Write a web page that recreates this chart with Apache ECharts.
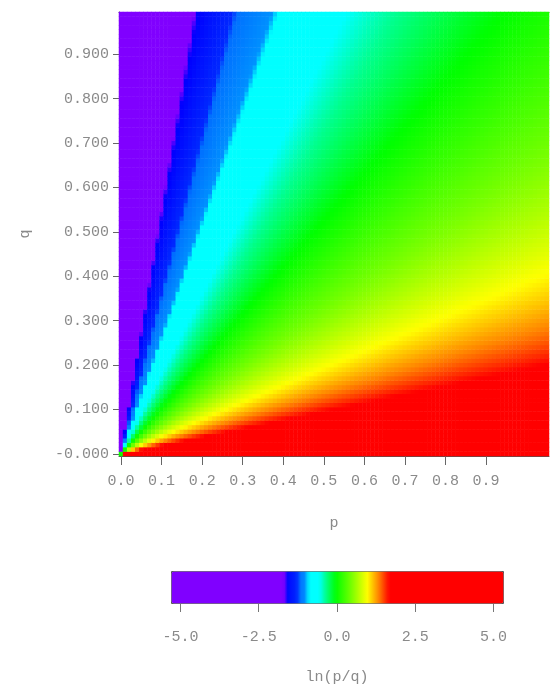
<!DOCTYPE html>
<html>
<head>
<meta charset="utf-8">
<script src="https://cdn.jsdelivr.net/npm/echarts@6/dist/echarts.min.js"></script>
<style>
html, body { margin: 0; padding: 0; background: #fff; }
#chart { width: 550px; height: 686px; }
</style>
</head>
<body>
<div id="chart"></div>
<script>
// grid of p and q sample points (cell centres, step 0.01)
const pSamples = [];
for (let i = 0; i <= 105; i++) pSamples.push(+(i * 0.01).toFixed(2));
const qSamples = [];
for (let j = 0; j <= 99; j++) qSamples.push(+(j * 0.01).toFixed(2));

// axis ticks
const xTickValues = [0, 0.1, 0.2, 0.3, 0.4, 0.5, 0.6, 0.7, 0.8, 0.9];
const xTickLabels = ['0.0', '0.1', '0.2', '0.3', '0.4', '0.5', '0.6', '0.7', '0.8', '0.9'];
const yTickValues = [0, 0.1, 0.2, 0.3, 0.4, 0.5, 0.6, 0.7, 0.8, 0.9];
const yTickLabels = ['-0.000', '0.100', '0.200', '0.300', '0.400', '0.500', '0.600', '0.700', '0.800', '0.900'];
const barTickValues = [-5, -2.5, 0, 2.5, 5];
const barTickLabels = ['-5.0', '-2.5', '0.0', '2.5', '5.0'];

// colour bar range
const valueMin = -5.3;
const valueMax = 5.3;

// colour map (value, colour)
const colorStops = [
  [-5.3, '#8000ff'],
  [-1.70, '#8000ff'],
  [-1.66, '#0000ff'],
  [-1.28, '#0028ff'],
  [-1.24, '#0070ff'],
  [-0.98, '#0090ff'],
  [-0.94, '#00ffff'],
  [-0.58, '#00ffff'],
  [-0.38, '#00ff90'],
  [-0.05, '#00ff00'],
  [0.45, '#78ff00'],
  [0.95, '#ffff00'],
  [1.32, '#ff8000'],
  [1.65, '#ff0000'],
  [5.3, '#ff0000']
];

// cell value is ln(p/q), the quantity named on the colour bar
const cells = [];
pSamples.forEach((p, i) => {
  qSamples.forEach((q, j) => {
    let v;
    if (p === 0 && q === 0) v = 0;
    else if (p === 0) v = valueMin;
    else if (q === 0) v = valueMax;
    else v = Math.max(valueMin, Math.min(valueMax, Math.log(p / q)));
    cells.push([i, j, v]);
  });
});

// turn the stops into an evenly spaced colour list for visualMap
function hexToRgb(h) {
  return [parseInt(h.slice(1, 3), 16), parseInt(h.slice(3, 5), 16), parseInt(h.slice(5, 7), 16)];
}
function colorAt(v) {
  for (let k = 1; k < colorStops.length; k++) {
    if (v <= colorStops[k][0]) {
      const a = colorStops[k - 1], b = colorStops[k];
      const t = (v - a[0]) / (b[0] - a[0]);
      const ca = hexToRgb(a[1]), cb = hexToRgb(b[1]);
      const c = ca.map((x, n) => Math.round(x + (cb[n] - x) * t));
      return 'rgb(' + c.join(',') + ')';
    }
  }
  return colorStops[colorStops.length - 1][1];
}
const palette = [];
const steps = 531;
for (let s = 0; s < steps; s++) {
  palette.push(colorAt(valueMin + (valueMax - valueMin) * s / (steps - 1)));
}

const font = { fontFamily: 'Liberation Mono', fontSize: 15, color: '#8a8a8a' };

const chart = echarts.init(document.getElementById('chart'));
chart.setOption({
  animation: false,
  backgroundColor: '#fff',
  grid: [
    { left: 119, top: 12, width: 430, height: 444 },
    { left: 171, top: 571, width: 332, height: 32 }
  ],
  xAxis: [
    { type: 'category', gridIndex: 0, data: pSamples, show: false },
    {
      type: 'value', gridIndex: 0, min: -0.005, max: 1.055, position: 'bottom',
      axisLine: { show: true, onZero: false, lineStyle: { color: '#555' } },
      axisTick: { show: true, length: 9, customValues: xTickValues, lineStyle: { color: '#666' } },
      axisLabel: {
        customValues: xTickValues, margin: 18, ...font,
        formatter: v => xTickLabels[Math.round(v * 10)]
      },
      splitLine: { show: false },
      name: 'p', nameLocation: 'middle', nameGap: 60, nameTextStyle: font
    },
    {
      type: 'value', gridIndex: 0, min: -0.005, max: 1.055, position: 'top',
      axisLine: { show: true, onZero: false, lineStyle: { color: '#444' } },
      axisTick: { show: false }, axisLabel: { show: false }, splitLine: { show: false }
    },
    {
      type: 'value', gridIndex: 1, min: valueMin, max: valueMax,
      axisLine: { show: false, onZero: false },
      axisTick: { show: true, length: 10, customValues: barTickValues, lineStyle: { color: '#777' } },
      axisLabel: {
        customValues: barTickValues, margin: 28, ...font,
        formatter: v => barTickLabels[barTickValues.indexOf(v)]
      },
      splitLine: { show: false },
      name: 'ln(p/q)', nameLocation: 'middle', nameGap: 68, nameTextStyle: font
    }
  ],
  yAxis: [
    { type: 'category', gridIndex: 0, data: qSamples, show: false },
    {
      type: 'value', gridIndex: 0, min: -0.005, max: 0.995, position: 'left',
      axisLine: { show: true, onZero: false, lineStyle: { color: '#555' } },
      axisTick: { show: true, length: 6, customValues: yTickValues, lineStyle: { color: '#666' } },
      axisLabel: {
        customValues: yTickValues, margin: 10, ...font,
        formatter: v => yTickLabels[Math.round(v * 10)]
      },
      splitLine: { show: false },
      name: 'q', nameLocation: 'middle', nameGap: 86, nameRotate: 90, nameTextStyle: font
    },
    { type: 'value', gridIndex: 1, min: 0, max: 1, show: false }
  ],
  visualMap: {
    type: 'continuous',
    seriesIndex: 0,
    min: valueMin,
    max: valueMax,
    orient: 'horizontal',
    left: 171,
    top: 571,
    itemWidth: 32,
    itemHeight: 332,
    calculable: false,
    padding: 0,
    borderColor: '#555',
    borderWidth: 1,
    inRange: { color: palette }
  },
  series: [
    {
      type: 'heatmap',
      xAxisIndex: 0,
      yAxisIndex: 0,
      data: cells,
      progressive: 0,
      emphasis: { disabled: true }
    }
  ]
});
</script>
</body>
</html>
